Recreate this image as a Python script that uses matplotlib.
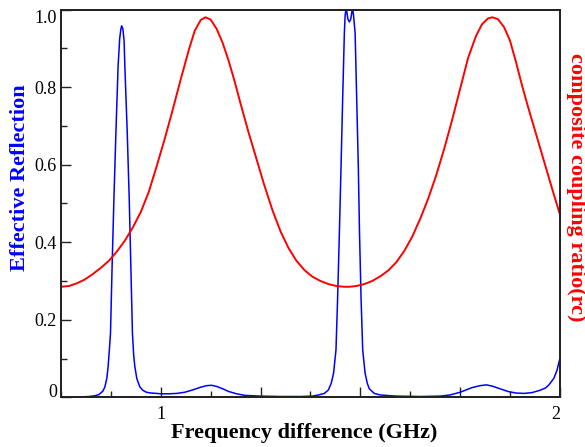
import matplotlib
matplotlib.use("Agg")
import matplotlib.pyplot as plt
from matplotlib.ticker import MultipleLocator, FixedLocator, FixedFormatter
from matplotlib.transforms import ScaledTranslation

# values
refl_x = [0.75, 0.80, 0.82, 0.835, 0.845, 0.855, 0.860, 0.865, 0.868, 0.871,
          0.874, 0.878, 0.8825, 0.8875, 0.893, 0.897, 0.900, 0.902, 0.905, 0.908,
          0.910, 0.916, 0.921, 0.925, 0.929, 0.932, 0.935, 0.940, 0.9475, 0.955,
          0.964, 0.975, 0.99, 1.00, 1.02, 1.04, 1.06, 1.08, 1.10, 1.115,
          1.127, 1.14, 1.155, 1.17, 1.19, 1.21, 1.25, 1.30, 1.35, 1.38,
          1.395, 1.41, 1.42, 1.427, 1.433, 1.439, 1.443, 1.4475, 1.4517, 1.4557,
          1.460, 1.462, 1.464, 1.466, 1.469, 1.4725, 1.476, 1.479, 1.481, 1.483,
          1.487, 1.491, 1.495, 1.498, 1.502, 1.506, 1.512, 1.5175, 1.5225, 1.535,
          1.55, 1.59, 1.65, 1.70, 1.725, 1.75, 1.78, 1.80, 1.816, 1.83,
          1.85, 1.87, 1.89, 1.91, 1.93, 1.95, 1.964, 1.9725, 1.985, 1.993, 2.00]
refl_y = [0.000, 0.001, 0.002, 0.004, 0.007, 0.016, 0.027, 0.050, 0.079, 0.120,
          0.165, 0.337, 0.509, 0.681, 0.853, 0.925, 0.950, 0.958, 0.950, 0.920,
          0.853, 0.681, 0.509, 0.337, 0.165, 0.110, 0.079, 0.048, 0.027, 0.018,
          0.013, 0.011, 0.010, 0.009, 0.009, 0.010, 0.013, 0.019, 0.026, 0.030,
          0.031, 0.028, 0.022, 0.015, 0.009, 0.005, 0.003, 0.002, 0.002, 0.003,
          0.006, 0.010, 0.019, 0.036, 0.062, 0.122, 0.251, 0.423, 0.595, 0.767,
          0.939, 0.985, 1.000, 0.995, 0.975, 0.968, 0.975, 0.995, 1.000, 0.985,
          0.939, 0.767, 0.595, 0.423, 0.251, 0.122, 0.062, 0.036, 0.022, 0.010,
          0.006, 0.003, 0.002, 0.003, 0.006, 0.013, 0.025, 0.030, 0.032, 0.029,
          0.022, 0.015, 0.011, 0.010, 0.012, 0.018, 0.024, 0.032, 0.049, 0.070, 0.100]

rc_x = [0.75, 0.77, 0.79, 0.81, 0.83, 0.85, 0.87, 0.89, 0.91, 0.93,
        0.95, 0.97, 0.99, 1.01, 1.03, 1.05, 1.07, 1.085, 1.10, 1.112,
        1.125, 1.14, 1.155, 1.17, 1.185, 1.20, 1.22, 1.24, 1.26, 1.28,
        1.30, 1.32, 1.34, 1.36, 1.38, 1.40, 1.42, 1.44, 1.46, 1.4725,
        1.49, 1.51, 1.53, 1.55, 1.57, 1.59, 1.61, 1.63, 1.65, 1.67,
        1.69, 1.71, 1.73, 1.75, 1.77, 1.79, 1.805, 1.82, 1.831, 1.845,
        1.86, 1.875, 1.89, 1.905, 1.92, 1.94, 1.96, 1.98, 2.00]
rc_y = [0.285, 0.287, 0.294, 0.304, 0.318, 0.334, 0.352, 0.376, 0.404, 0.438,
        0.478, 0.530, 0.597, 0.667, 0.742, 0.820, 0.895, 0.945, 0.973, 0.980,
        0.974, 0.950, 0.914, 0.868, 0.815, 0.757, 0.683, 0.614, 0.545, 0.482,
        0.428, 0.385, 0.352, 0.328, 0.311, 0.300, 0.292, 0.287, 0.285, 0.285,
        0.287, 0.292, 0.300, 0.312, 0.327, 0.348, 0.377, 0.414, 0.460, 0.512,
        0.572, 0.640, 0.715, 0.795, 0.875, 0.932, 0.962, 0.977, 0.980, 0.975,
        0.955, 0.920, 0.865, 0.805, 0.750, 0.680, 0.610, 0.540, 0.472]

x_labels = ["1", "", "", "", "2"]
y_labels = ["0", "0.2", "0.4", "0.6", "0.8", "1.0"]

plt.rcParams['font.family'] = ['Liberation Serif', 'DejaVu Serif']

fig = plt.figure(figsize=(5.85, 4.47), dpi=100)
ax = fig.add_axes([0.1043, 0.1112, 0.8527, 0.8675])

ax.plot(refl_x, refl_y, color='#0000ff', lw=1.1)
ax.set_xlim(0.75, 2.0)
ax.set_ylim(0, 1.0)

ax2 = ax.twinx()
ax2.plot(rc_x, rc_y, color='#ff0000', lw=1.4)
ax2.set_ylim(0, 1.0)
ax2.set_yticks([])

# x ticks: majors every 0.25, labelled only at 1 and 2
ax.xaxis.set_major_locator(FixedLocator([1.0, 1.25, 1.5, 1.75, 2.0]))
ax.xaxis.set_major_formatter(FixedFormatter(x_labels))
ax.xaxis.set_minor_locator(MultipleLocator(0.125))
ax.yaxis.set_major_locator(FixedLocator([0, 0.2, 0.4, 0.6, 0.8, 1.0]))
ax.yaxis.set_major_formatter(FixedFormatter(y_labels))
ax.yaxis.set_minor_locator(MultipleLocator(0.1))

ax.tick_params(which='both', direction='in', top=False, right=False,
               labelsize=13, width=1.0, color='#222222')
ax.tick_params(which='major', length=7)
ax.tick_params(which='minor', length=4)
ax.tick_params(axis='y', pad=3)
ax.tick_params(axis='x', pad=6)

for sp in list(ax.spines.values()) + list(ax2.spines.values()):
    sp.set_linewidth(1.3)
    sp.set_color('#222222')

ylabs = ax.get_yticklabels()
ylabs[0].set_transform(ylabs[0].get_transform() +
                       ScaledTranslation(0, 5 / 72, fig.dpi_scale_trans))
ylabs[-1].set_va('top')
xlabs = ax.get_xticklabels()
xlabs[-1].set_ha('right')

fig.text(0.487 * 0.8527 + 0.1043, 1 - 433 / 447, "Frequency difference (GHz)",
         ha='center', va='center', fontsize=16, fontweight='bold')
fig.text(20 / 585, 1 - 178 / 447, "Effective Reflection", rotation=90,
         ha='center', va='center', fontsize=16, fontweight='bold', color='#0000ff')
fig.text(576.5 / 585, 1 - 187.5 / 447, "composite coupling ratio(rc)", rotation=270,
         ha='center', va='center', fontsize=16, fontweight='bold', color='#ff0000')

fig.savefig("out.png", dpi=100)
